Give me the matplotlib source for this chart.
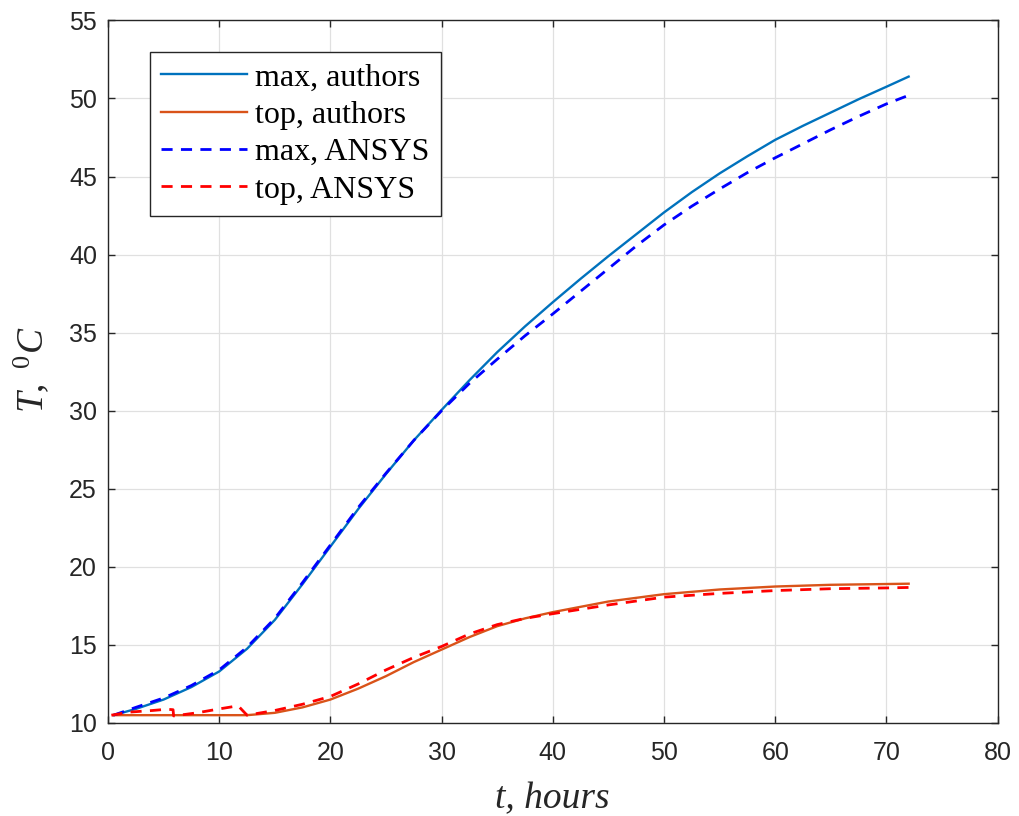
import matplotlib
matplotlib.use("Agg")
import matplotlib.pyplot as plt

plt.rcParams["font.family"] = ["Liberation Sans", "DejaVu Sans"]
plt.rcParams["mathtext.fontset"] = "custom"
plt.rcParams["mathtext.rm"] = "Liberation Serif"
plt.rcParams["mathtext.it"] = "Liberation Serif:italic"

# max temperature, authors' model
t_max_auth = [0.5, 2.5, 5, 7.5, 10, 12.5, 15, 17.5, 20, 22.5, 25, 27.5, 30, 32.5, 35,
              37.5, 40, 42.5, 45, 47.5, 50, 52.5, 55, 57.5, 60, 62.5, 65, 67.5, 70, 72]
T_max_auth = [10.5, 10.9, 11.5, 12.3, 13.3, 14.75, 16.6, 18.9, 21.3, 23.7, 25.95, 28.1, 30.05,
              31.95, 33.75, 35.4, 36.95, 38.45, 39.9, 41.3, 42.7, 44.0, 45.2, 46.3, 47.35,
              48.25, 49.1, 49.95, 50.75, 51.4]

# top temperature, authors' model
t_top_auth = [0.5, 12.5, 15, 17.5, 20, 22.5, 25, 27.5, 30, 32.5, 35, 37.5, 40, 45, 50,
              55, 60, 65, 70, 72]
T_top_auth = [10.5, 10.5, 10.65, 11.0, 11.5, 12.2, 13.0, 13.9, 14.7, 15.5, 16.2, 16.7,
              17.1, 17.78, 18.25, 18.55, 18.74, 18.85, 18.9, 18.92]

# max temperature, ANSYS
t_max_ansys = [0.5, 2.5, 5, 7.5, 10, 12.5, 15, 17.5, 20, 22.5, 25, 27.5, 30, 32.5, 35,
               37.5, 40, 42.5, 45, 47.5, 50, 52.5, 55, 57.5, 60, 62.5, 65, 67.5, 70, 72]
T_max_ansys = [10.5, 11.0, 11.6, 12.4, 13.4, 14.85, 16.7, 19.0, 21.4, 23.8, 26.0, 28.1, 30.0,
               31.75, 33.3, 34.8, 36.2, 37.65, 39.1, 40.55, 41.9, 43.1, 44.2, 45.25, 46.2,
               47.1, 48.0, 48.85, 49.65, 50.2]

# top temperature, ANSYS
t_top_ansys = [0.3, 2, 4, 5.3, 5.85, 5.9, 8, 10, 11.7, 12.5, 15, 17.5, 20, 22.5, 25, 27.5,
               30, 32.5, 35, 37.5, 40, 45, 50, 55, 60, 65, 70, 72]
T_top_ansys = [10.5, 10.7, 10.8, 10.88, 10.85, 10.45, 10.65, 10.9, 11.1, 10.5, 10.8, 11.2,
               11.7, 12.5, 13.4, 14.2, 14.9, 15.7, 16.3, 16.7, 17.0, 17.56, 18.06, 18.3,
               18.48, 18.6, 18.65, 18.68]

fig = plt.figure(figsize=(10.19, 8.16), dpi=100)
ax = fig.add_axes([0.106, 0.114, 0.873, 0.861])

ax.plot(t_max_auth, T_max_auth, color="#0072BD", lw=1.7, label="max, authors")
ax.plot(t_top_auth, T_top_auth, color="#D95319", lw=1.7, label="top, authors")
ax.plot(t_max_ansys, T_max_ansys, color="#0000FF", lw=2, dashes=(4, 3), label="max, ANSYS")
ax.plot(t_top_ansys, T_top_ansys, color="#FF0000", lw=2, dashes=(4, 3), label="top, ANSYS")

ax.set_xlim(0, 80)
ax.set_ylim(10, 55)
ax.set_xticks(range(0, 81, 10))
ax.set_yticks(range(10, 56, 5))
ax.grid(True, color="#e0e0e0", lw=0.9)
ax.set_axisbelow(True)

for sp in ax.spines.values():
    sp.set_color("#262626")
    sp.set_linewidth(1.0)
ax.tick_params(direction="in", length=5, width=1, top=True, right=True,
               labelsize=18, colors="#262626")
ax.tick_params(axis="x", pad=13)
ax.tick_params(axis="y", pad=8)

ax.set_xlabel("t, hours", fontfamily="Liberation Serif", fontstyle="italic",
              fontsize=27, color="#262626")
ax.set_ylabel(r"$T,\ ^{\mathit{0}}C$", fontsize=27, color="#262626")
ax.xaxis.set_label_coords(0.5, -0.083)
ax.yaxis.set_label_coords(-0.064, 0.503)

leg = ax.legend(loc="upper left", bbox_to_anchor=(0.047, 0.955), borderaxespad=0,
                prop={"family": "Liberation Serif", "size": 23}, fancybox=False,
                edgecolor="#262626", handlelength=2.7, handletextpad=0.25,
                labelspacing=0.25, borderpad=0.35, framealpha=1)
leg.get_frame().set_linewidth(1.0)

fig.savefig("out.png", dpi=100)
